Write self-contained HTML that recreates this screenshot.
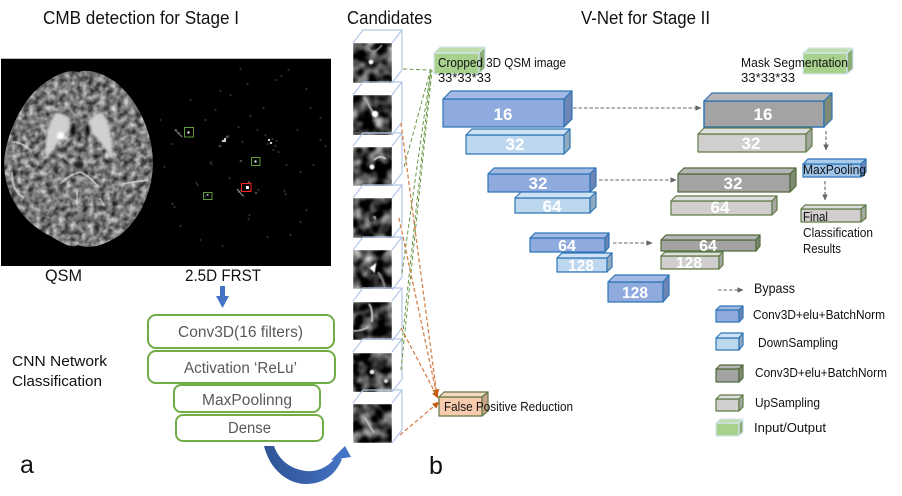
<!DOCTYPE html>
<html><head><meta charset="utf-8">
<style>
html,body{margin:0;padding:0;background:#fff}
svg{display:block}
text{font-family:"Liberation Sans",sans-serif;fill:#111}
.t{font-size:18px}
.s{font-size:12.5px}
.m{font-size:14.5px}
.n{fill:#fff;font-weight:bold;text-anchor:middle;font-size:15px}
.g{fill:#595959;font-size:15.5px}
.c *{stroke-width:1.2;stroke-linejoin:round}
.b *{stroke:#2e75b6}.b :nth-child(1){fill:#8faadc}.b :nth-child(2){fill:#a3b9e3}.b :nth-child(3){fill:#6d85b5}
.l *{stroke:#2e75b6}.l :nth-child(1){fill:#bdd7ee}.l :nth-child(2){fill:#cfe2f3}.l :nth-child(3){fill:#8fa9bf}
.d *{stroke:#4f6b3a}.d :nth-child(1){fill:#a3a3a3}.d :nth-child(2){fill:#b5b5b5}.d :nth-child(3){fill:#7f8a74}
.u *{stroke:#5f7b45}.u :nth-child(1){fill:#d0cece}.u :nth-child(2){fill:#dedede}.u :nth-child(3){fill:#a3a8a0}
.v *{stroke:#d5e6f2}.v :nth-child(1){fill:#a9d18e}.v :nth-child(2){fill:#bedda9}.v :nth-child(3){fill:#8aac72}
.o *{stroke:#5f7b45}.o :nth-child(1){fill:#f8cbad}.o :nth-child(2){fill:#f9d8c2}.o :nth-child(3){fill:#c9a48b}
.cube{fill:none;stroke:#b4c7e7;stroke-width:1.2}
.rb{fill:#fff;stroke:#70ad47;stroke-width:2}
</style></head><body>
<svg width="902" height="496" viewBox="0 0 902 496" xmlns="http://www.w3.org/2000/svg">
<defs>
<filter id="br" x="0" y="0" width="100%" height="100%" color-interpolation-filters="sRGB">
<feTurbulence type="fractalNoise" baseFrequency="0.17" numOctaves="3" seed="4"/>
<feColorMatrix type="matrix" values="1.1 0 0 0 -0.08 1.1 0 0 0 -0.08 1.1 0 0 0 -0.08 0 0 0 0 1"/>
<feGaussianBlur stdDeviation="0.45"/>
<feComposite in2="SourceAlpha" operator="in"/>
</filter>
<filter id="ca" x="0" y="0" width="100%" height="100%" color-interpolation-filters="sRGB">
<feTurbulence type="fractalNoise" baseFrequency="0.08" numOctaves="2" seed="9"/>
<feColorMatrix type="matrix" values="1.7 0 0 0 -0.62 1.7 0 0 0 -0.62 1.7 0 0 0 -0.62 0 0 0 0 1"/>
<feGaussianBlur stdDeviation="0.8"/>
<feComposite in2="SourceAlpha" operator="in"/>
</filter>
<filter id="bl"><feGaussianBlur stdDeviation="1.2"/></filter>
<filter id="b2"><feGaussianBlur stdDeviation="0.6"/></filter>
<linearGradient id="ag" x1="0" x2="1" y1="0" y2="0"><stop offset="0" stop-color="#2f5597"/><stop offset="0.6" stop-color="#3a63ad"/><stop offset="1" stop-color="#4472c4"/></linearGradient>
<marker id="ah" markerWidth="7" markerHeight="7" refX="5" refY="3" orient="auto"><path d="M0,0.5L5.5,3L0,5.5Z" fill="#666"/></marker>
<marker id="oh" markerWidth="7" markerHeight="7" refX="5" refY="3" orient="auto"><path d="M0,0.5L5.5,3L0,5.5Z" fill="#c55a11"/></marker>
<g id="cb">
<path class="cube" d="M353,43L363,30H402V70L392,83M392,43L402,30"/>
</g>
</defs>

<!-- titles -->
<text class="t" x="43" y="24" textLength="196" lengthAdjust="spacingAndGlyphs">CMB detection for Stage I</text>
<text class="t" x="347" y="24" textLength="85" lengthAdjust="spacingAndGlyphs">Candidates</text>
<text class="t" x="581" y="24" textLength="129" lengthAdjust="spacingAndGlyphs">V-Net for Stage II</text>

<!-- black panel -->
<rect x="1" y="58" width="330" height="208" fill="#000"/>
<rect x="1" y="58" width="330" height="1" fill="#bbb"/>
<!-- brain -->
<path id="brain" d="M78,72C66,68 50,78 38,88C20,105 6,135 4,162C4,195 22,222 50,236C62,243 72,249 78,245C90,250 105,245 120,235C140,220 153,190 153,162C152,130 138,102 118,84C105,74 90,68 78,72Z" fill="#808080" filter="url(#br)"/>
<g filter="url(#bl)">
<path d="M56,113C47,122 44,145 46,160C52,150 58,143 62,137C68,134 71,125 70,120C66,114 60,112 56,113Z" fill="#d0d0d0"/>
<path d="M102,113C110,122 114,145 112,158C106,150 100,143 96,137C90,134 88,125 90,120C94,114 98,112 102,113Z" fill="#d0d0d0"/>
<ellipse cx="61" cy="136" rx="4" ry="4" fill="#fff"/>
<ellipse cx="73" cy="130" rx="3" ry="6" fill="#111"/>
<ellipse cx="88" cy="130" rx="3" ry="6" fill="#111"/>
<ellipse cx="79" cy="165" rx="5" ry="4" fill="#222"/>
</g>
<g fill="none" stroke="#e8e8e8" stroke-width="1.2" filter="url(#b2)">
<path d="M60,184C66,178 72,174 80,172C86,174 92,180 98,186"/>
<path d="M77,190V205"/>
<path d="M12,172C12,182 14,192 24,198"/>
<path d="M12,142C20,142 26,146 30,150"/>
<path d="M122,184C130,182 136,182 148,180"/>
<path d="M100,198L104,206"/>
</g>
<!-- FRST dots -->
<path d="M240,69h1M288,70h1M281,76h1M247,84h1M220,91h1M306,89h1M190,100h1M250,116h1M263,108h1M320,118h1M175,130h2M178,133h2M181,136h1M171,144h1M188,132h1M222,141h4M224,139h2M228,136h1M219,146h2M226,137h2M265,135h1M268,140h2M270,143h2M272,139h1M275,146h1M278,152h1M267,144h1M273,150h1M276,141h1M210,162h1M211,164h1M240,161h2M164,167h1M286,165h1M300,172h1M248,182h2M240,190h1M238,192h1M243,196h1M255,193h2M258,190h1M284,191h1M285,194h1M172,204h1M174,207h1M249,215h1M248,219h1M267,237h1M180,226h1M300,222h1M320,140h1M313,165h1M196,183h1M197,185h1M229,178h1M205,196h1M200,240h1M222,246h1M290,235h1M306,210h1M160,120h1M230,95h1M215,110h1M325,146h1M276,80h1M257,130h1M242,142h1M238,127h1M205,120h1M297,130h1M310,108h1" stroke="#bbb" stroke-width="1" fill="none" filter="url(#b2)"/>
<path d="M222,141h4M224,139h2M268,140h2M270,143h2" stroke="#fff" stroke-width="1.500" fill="none"/>
<path d="M175,130L182,137" stroke="#999" stroke-width="0.8"/>
<path d="M237,189L243,196" stroke="#bbb" stroke-width="0.8"/>
<rect x="187.5" y="131.5" width="2" height="2" fill="#fff"/>
<rect x="254.5" y="160.5" width="2" height="2" fill="#fff"/>
<rect x="207" y="194" width="1.5" height="1.5" fill="#ddd"/>
<rect x="246" y="186" width="3" height="3" fill="#fff"/>
<g fill="none" stroke-width="1">
<rect x="184.500" y="127.500" width="9" height="9.500" stroke="#5f9a3c"/>
<rect x="251.500" y="157.500" width="8.500" height="8" stroke="#5f9a3c"/>
<rect x="203.500" y="192.500" width="8.500" height="7" stroke="#5f9a3c"/>
<rect x="241.500" y="183.500" width="9.500" height="8" stroke="#ff2020"/>
</g>

<text x="45" y="281" style="font-size:17px" textLength="37" lengthAdjust="spacingAndGlyphs">QSM</text>
<text x="185" y="281" style="font-size:17px" textLength="76" lengthAdjust="spacingAndGlyphs">2.5D FRST</text>

<!-- down arrow -->
<path d="M220,286h5v10h4l-6.500,12l-6.500,-12h4Z" fill="#4472c4"/>

<!-- CNN stack -->
<rect class="rb" x="148" y="315" width="186" height="33" rx="8"/>
<rect class="rb" x="148" y="351" width="187" height="32" rx="8"/>
<rect class="rb" x="174" y="385" width="146" height="27" rx="7"/>
<rect class="rb" x="176" y="415" width="147" height="26" rx="7"/>
<text class="g" x="178" y="337" textLength="125" lengthAdjust="spacingAndGlyphs">Conv3D(16 filters)</text>
<text class="g" x="184" y="373" textLength="113" lengthAdjust="spacingAndGlyphs">Activation ‘ReLu’</text>
<text class="g" x="202" y="405" textLength="90" lengthAdjust="spacingAndGlyphs">MaxPoolinng</text>
<text class="g" x="228" y="433" textLength="43" lengthAdjust="spacingAndGlyphs">Dense</text>
<text class="m" x="12" y="366" textLength="95" lengthAdjust="spacingAndGlyphs">CNN Network</text>
<text class="m" x="12" y="386" textLength="90" lengthAdjust="spacingAndGlyphs">Classification</text>
<text x="20" y="473" style="font-size:25px">a</text>
<text x="429" y="474" style="font-size:25px">b</text>

<!-- curved arrow -->
<path d="M264,446C270,470 288,484 306,484C322,484 335,476 342,459L335,458C328,467 318,472 306,471C290,469 279,460 274,446Z" fill="url(#ag)"/>
<path d="M345,446L331,460L351,457Z" fill="#4472c4"/>

<!-- candidates -->
<g id="imgs">
<rect x="353" y="43" width="39" height="40" fill="#333" filter="url(#ca)"/>
<rect x="353" y="95" width="39" height="40" fill="#333" filter="url(#ca)"/>
<rect x="353" y="147" width="39" height="39" fill="#333" filter="url(#ca)"/>
<rect x="353" y="198" width="39" height="40" fill="#333" filter="url(#ca)"/>
<rect x="353" y="250" width="39" height="39" fill="#333" filter="url(#ca)"/>
<rect x="353" y="302" width="39" height="38" fill="#333" filter="url(#ca)"/>
<rect x="353" y="353" width="39" height="39" fill="#333" filter="url(#ca)"/>
<rect x="353" y="404" width="39" height="39" fill="#333" filter="url(#ca)"/>
</g>
<g filter="url(#b2)">
<circle cx="371" cy="62" r="2.300" fill="#fff"/>
<path d="M368,48C372,54 376,52 382,45" stroke="#999" stroke-width="1.5" fill="none"/>
<path d="M364,97C368,103 370,108 374,114" stroke="#aaa" stroke-width="2" fill="none"/>
<circle cx="375" cy="114" r="3.200" fill="#fff"/>
<path d="M353,133H392" stroke="#888" stroke-width="1"/>
<circle cx="372" cy="167" r="2.500" fill="#fff"/>
<path d="M374,160C378,156 382,156 386,159" stroke="#ddd" stroke-width="1.600" fill="none"/>
<circle cx="374" cy="218" r="2" fill="#ddd"/>
<circle cx="372" cy="219" r="3" fill="#111" opacity=".7"/>
<path d="M371,268L375,265L374,271Z" fill="#fff" stroke="#fff" stroke-width="2"/>
<path d="M378,272C382,278 384,282 385,288" stroke="#888" stroke-width="2" fill="none"/>
<path d="M369,304C373,310 372,316 372,322" stroke="#ccc" stroke-width="2" fill="none"/>
<path d="M353,331C358,331 364,330 368,327" stroke="#ccc" stroke-width="1.500" fill="none"/>
<circle cx="372" cy="372" r="2.300" fill="#eee"/>
<circle cx="386" cy="381" r="2" fill="#ddd"/>
<path d="M365,418C369,424 371,428 374,433" stroke="#bbb" stroke-width="2" fill="none"/>
</g>
<use href="#cb"/>
<use href="#cb" y="52"/>
<use href="#cb" y="103"/>
<use href="#cb" y="155"/>
<use href="#cb" y="207"/>
<use href="#cb" y="258"/>
<use href="#cb" y="309"/>
<use href="#cb" y="360"/>

<!-- connectors -->
<g fill="none" stroke="#6a9a48" stroke-width="1" stroke-dasharray="4 2.500">
<path d="M403,69L431,70"/>
<path d="M404,167L431,68"/>
<path d="M402,273L431,68"/>
<path d="M402,342L431,70"/>
<path d="M401,370L432,70"/>
</g>
<g fill="none" stroke="#d5824a" stroke-width="1.300" stroke-dasharray="4 2.500">
<path d="M401,123L437,396" marker-end="url(#oh)"/>
<path d="M399,218L437,396" marker-end="url(#oh)"/>
<path d="M401,328L438,398" marker-end="url(#oh)"/>
<path d="M400,435L439,402" marker-end="url(#oh)"/>
</g>

<!-- V-net boxes -->
<g class="c v"><rect x="434" y="53" width="45" height="21"/><polygon points="434,53 440,47 485,47 479,53"/><polygon points="479,53 485,47 485,68 479,74"/></g>
<g class="c v"><rect x="803" y="53" width="44" height="21"/><polygon points="803,53 809,48 853,48 847,53"/><polygon points="847,53 853,48 853,69 847,74"/></g>

<g class="c b"><rect x="443" y="99" width="121" height="28"/><polygon points="443,99 451,91 572,91 564,99"/><polygon points="564,99 572,91 572,119 564,127"/></g>
<g class="c l"><rect x="466" y="135" width="98" height="19"/><polygon points="466,135 472,129 570,129 564,135"/><polygon points="564,135 570,129 570,148 564,154"/></g>
<g class="c b"><rect x="488" y="174" width="102" height="18"/><polygon points="488,174 494,168 596,168 590,174"/><polygon points="590,174 596,168 596,186 590,192"/></g>
<g class="c l"><rect x="515" y="198" width="75" height="15"/><polygon points="515,198 521,192 596,192 590,198"/><polygon points="590,198 596,192 596,207 590,213"/></g>
<g class="c b"><rect x="530" y="238" width="75" height="14"/><polygon points="530,238 535,233 609,233 605,238"/><polygon points="605,238 609,233 609,247 605,252"/></g>
<g class="c l"><rect x="557" y="258" width="50" height="14"/><polygon points="557,258 562,253 612,253 607,258"/><polygon points="607,258 612,253 612,267 607,272"/></g>
<g class="c b"><rect x="608" y="282" width="55" height="20"/><polygon points="608,282 615,275 669,275 663,282"/><polygon points="663,282 669,275 669,295 663,302"/></g>

<g class="c d"><rect x="704" y="101" width="120" height="26" style="stroke:#2e75b6;stroke-width:1.500"/><polygon points="704,101 712,93 832,93 824,101" style="stroke:#2e75b6"/><polygon points="824,101 832,93 832,119 824,127" style="stroke:#2e75b6"/></g>
<g class="c u"><rect x="698" y="134" width="108" height="18"/><polygon points="698,134 704,128 812,128 806,134"/><polygon points="806,134 812,128 812,146 806,152"/></g>
<g class="c d"><rect x="678" y="174" width="112" height="18"/><polygon points="678,174 684,168 796,168 790,174"/><polygon points="790,174 796,168 796,186 790,192"/></g>
<g class="c u"><rect x="671" y="201" width="101" height="14"/><polygon points="671,201 676,196 777,196 772,201"/><polygon points="772,201 777,196 777,210 772,215"/></g>
<g class="c d"><rect x="661" y="240" width="95" height="11"/><polygon points="661,240 666,235 760,235 756,240"/><polygon points="756,240 760,235 760,246 756,251"/></g>
<g class="c u"><rect x="661" y="256" width="58" height="13"/><polygon points="661,256 665,252 723,252 719,256"/><polygon points="719,256 723,252 723,265 719,269"/></g>

<g class="c b"><rect x="803" y="164" width="58" height="13" style="fill:#9dc3e6"/><polygon points="803,164 808,159 866,159 861,164" style="fill:#a9cbea"/><polygon points="861,164 866,159 866,172 861,177"/></g>
<g class="c u"><rect x="801" y="209" width="60" height="13"/><polygon points="801,209 805,205 866,205 861,209"/><polygon points="861,209 866,205 866,218 861,222"/></g>
<g class="c o"><rect x="439" y="397" width="43" height="19"/><polygon points="439,397 444,392 488,392 482,397"/><polygon points="482,397 488,392 488,411 482,416"/></g>

<!-- numbers -->
<text class="n" x="503" y="120" style="font-size:17px">16</text>
<text class="n" x="515" y="150" style="font-size:17px">32</text>
<text class="n" x="538" y="189" style="font-size:17px">32</text>
<text class="n" x="552" y="212" style="font-size:17px">64</text>
<text class="n" x="567" y="251" style="font-size:16px">64</text>
<text class="n" x="581" y="271" style="font-size:16px" textLength="26" lengthAdjust="spacingAndGlyphs">128</text>
<text class="n" x="635" y="298" style="font-size:16px" textLength="26" lengthAdjust="spacingAndGlyphs">128</text>
<text class="n" x="763" y="120" style="font-size:17px">16</text>
<text class="n" x="751" y="149" style="font-size:17px">32</text>
<text class="n" x="733" y="189" style="font-size:17px">32</text>
<text class="n" x="720" y="213" style="font-size:17px">64</text>
<text class="n" x="708" y="251" style="font-size:16px">64</text>
<text class="n" x="689" y="268" style="font-size:16px" textLength="26" lengthAdjust="spacingAndGlyphs">128</text>

<!-- bypass arrows -->
<g fill="none" stroke="#666" stroke-width="1.100" stroke-dasharray="3.500 2">
<path d="M573,108H701" marker-end="url(#ah)"/>
<path d="M599,180H676" marker-end="url(#ah)"/>
<path d="M613,243H652" marker-end="url(#ah)"/>
<path d="M826,131V150" marker-end="url(#ah)"/>
<path d="M825,181V200" marker-end="url(#ah)"/>
<path d="M718,290H743" marker-end="url(#ah)"/>
</g>

<!-- labels -->
<text class="s" x="438" y="67" textLength="128" lengthAdjust="spacingAndGlyphs">Cropped 3D QSM image</text>
<text class="s" x="438" y="82" textLength="53" lengthAdjust="spacingAndGlyphs">33*33*33</text>
<text class="s" x="741" y="67" textLength="107" lengthAdjust="spacingAndGlyphs">Mask Segmentation</text>
<text class="s" x="741" y="82" textLength="54" lengthAdjust="spacingAndGlyphs">33*33*33</text>
<text class="s" x="803" y="174" textLength="63" lengthAdjust="spacingAndGlyphs">MaxPooling</text>
<text class="s" x="803" y="221" textLength="25" lengthAdjust="spacingAndGlyphs">Final</text>
<text class="s" x="803" y="237" textLength="70" lengthAdjust="spacingAndGlyphs">Classification</text>
<text class="s" x="803" y="253" textLength="38" lengthAdjust="spacingAndGlyphs">Results</text>
<text class="s" x="444" y="411" textLength="129" lengthAdjust="spacingAndGlyphs">False Positive Reduction</text>

<!-- legend -->
<g class="c b"><rect x="716" y="310" width="23" height="12"/><polygon points="716,310 720,306 743,306 739,310"/><polygon points="739,310 743,306 743,318 739,322"/></g>
<g class="c l"><rect x="716" y="338" width="23" height="12"/><polygon points="716,338 721,333 743,333 739,338"/><polygon points="739,338 743,333 743,345 739,350"/></g>
<g class="c d"><rect x="716" y="369" width="23" height="13"/><polygon points="716,369 720,365 743,365 739,369"/><polygon points="739,369 743,365 743,378 739,382"/></g>
<g class="c u"><rect x="716" y="399" width="23" height="12"/><polygon points="716,399 720,395 743,395 739,399"/><polygon points="739,399 743,395 743,407 739,411"/></g>
<g class="c v"><rect x="716" y="423" width="23" height="13"/><polygon points="716,423 720,419 743,419 739,423"/><polygon points="739,423 743,419 743,432 739,436"/></g>
<text class="s" x="754" y="293" style="font-size:14px" textLength="41" lengthAdjust="spacingAndGlyphs">Bypass</text>
<text class="s" x="753" y="319" textLength="132" lengthAdjust="spacingAndGlyphs">Conv3D+elu+BatchNorm</text>
<text class="s" x="758" y="347" textLength="80" lengthAdjust="spacingAndGlyphs">DownSampling</text>
<text class="s" x="755" y="377" textLength="132" lengthAdjust="spacingAndGlyphs">Conv3D+elu+BatchNorm</text>
<text class="s" x="755" y="407" textLength="65" lengthAdjust="spacingAndGlyphs">UpSampling</text>
<text class="s" x="754" y="432" textLength="72" lengthAdjust="spacingAndGlyphs">Input/Output</text>
</svg>
</body></html>
